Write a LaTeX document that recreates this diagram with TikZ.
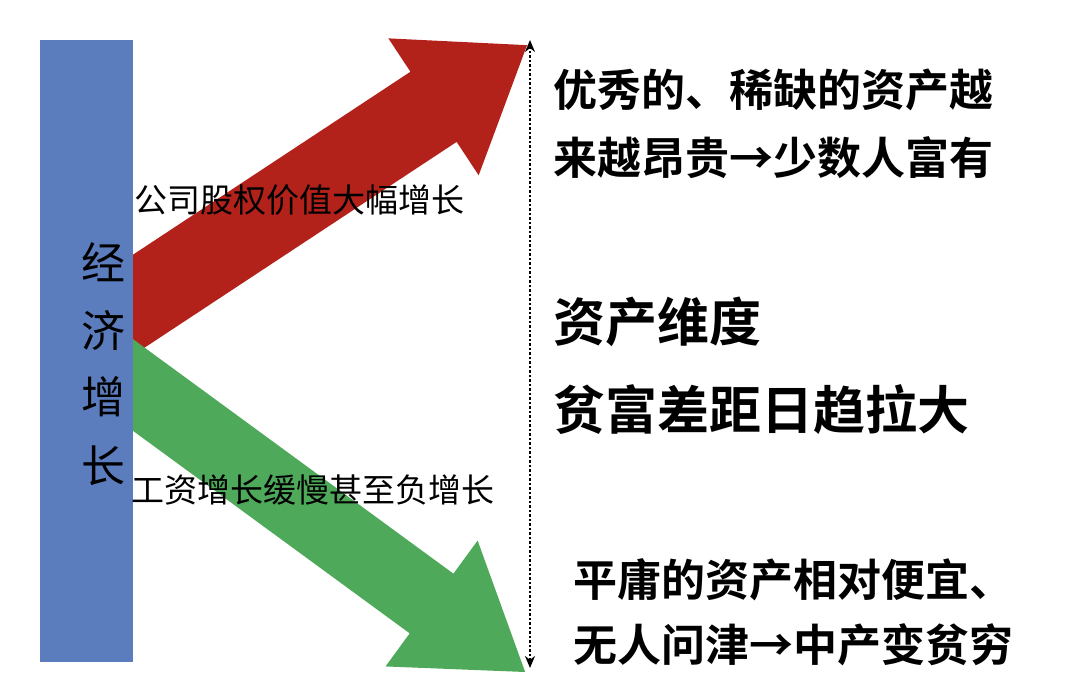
\documentclass[tikz,border=0pt]{standalone}
\usepackage{fontspec}
\newfontfamily\cjk[BoldFont={* Bold}]{Noto Sans CJK SC}
\usetikzlibrary{arrows.meta}
\definecolor{barblue}{RGB}{91,125,190}
\definecolor{arrred}{RGB}{178,34,26}
\definecolor{arrgreen}{RGB}{78,170,90}
\tikzset{
  lbl/.style={font=\cjk\fontsize{33}{33}\selectfont, anchor=west, inner sep=0pt},
  big/.style={font=\cjk\bfseries\fontsize{44}{44}\selectfont, anchor=west, inner sep=0pt},
  bigger/.style={font=\cjk\bfseries\fontsize{52}{52}\selectfont, anchor=west, inner sep=0pt},
  barlbl/.style={font=\cjk\fontsize{44}{44}\selectfont, inner sep=0pt},
}
\begin{document}
\begin{tikzpicture}[x=1pt,y=1pt]
\useasboundingbox (0,0) rectangle (1080,692);
% red arrow
\begin{scope}[shift={(133,387)}, rotate=33.4]
\fill[arrred] (-80,-42) -- (360,-42) -- (360,-82) -- (472,0) -- (360,82) -- (360,42) -- (-80,42) -- cycle;
\end{scope}
% green arrow
\begin{scope}[shift={(133,307)}, rotate=-36.2]
\fill[arrgreen] (-80,-37) -- (370,-37) -- (370,-78) -- (486,0) -- (370,78) -- (370,37) -- (-80,37) -- cycle;
\end{scope}
% bar
\fill[barblue] (40,30) rectangle (133,652);
\node[barlbl] (c1) at (103,430) {经};
\node[barlbl] (c2) at (103,362) {济};
\node[barlbl] (c3) at (103,295) {增};
\node[barlbl] (c4) at (103,226) {长};
% labels
\node[lbl] (l1) at (134,492) {公司股权价值大幅增长};
\node[lbl] (l2) at (131,202) {工资增长缓慢甚至负增长};
% dotted double arrow
\coordinate (top) at (530,652);
\coordinate (bot) at (530,24);
\draw[line width=2.5pt, dotted, {Stealth[length=12pt,width=10pt]}-{Stealth[length=12pt,width=10pt]}] (bot) -- (top);
% right texts
\node[big] (t1) at (553,602) {优秀的、稀缺的资产越};
\node[big] (t2) at (553,534) {来越昂贵→少数人富有};
\node[bigger] (t3) at (553,370) {资产维度};
\node[bigger] (t4) at (553,282) {贫富差距日趋拉大};
\node[big] (t5) at (573,112) {平庸的资产相对便宜、};
\node[big] (t6) at (573,47) {无人问津→中产变贫穷};
\end{tikzpicture}
\end{document}
